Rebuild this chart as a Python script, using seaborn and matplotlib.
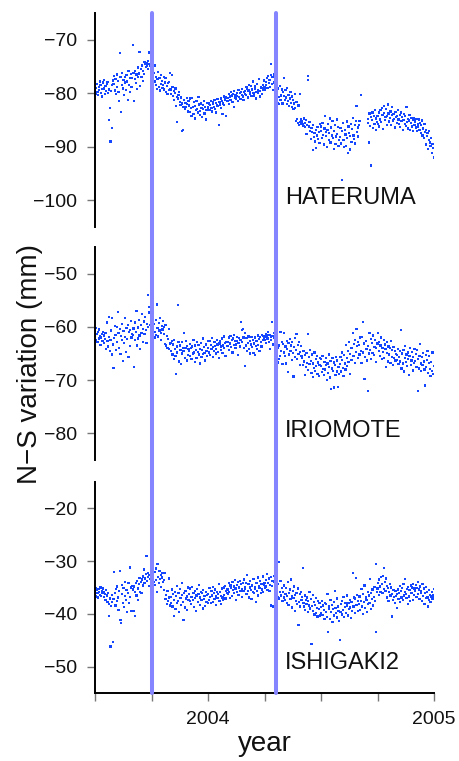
import numpy as np
import pandas as pd
import matplotlib
matplotlib.use("Agg")
import matplotlib.pyplot as plt
import seaborn as sns

# ---------------- data (daily values, one row per month Jul 2003 .. Dec 2004) ----------------
month_starts = ["2003-07", "2003-08", "2003-09", "2003-10", "2003-11", "2003-12",
                "2004-01", "2004-02", "2004-03", "2004-04", "2004-05", "2004-06",
                "2004-07", "2004-08", "2004-09", "2004-10", "2004-11", "2004-12"]
nan = float("nan")

hateruma = [
    [-79.5,-78.6,-80.1,-79.0,-78.2,-79.8,-80.3,-78.9,-79.4,-77.8,-78.5,-79.9,-80.6,-79.2,-78.0,-77.5,-79.1,-80.2,-78.7,-79.6,-78.3,-77.9,-80.0,-79.3,-85.0,-82.8,-89.0,-79.6,-86.5,-78.4,-77.6],
    [-78.2,-76.8,-79.5,-77.3,-80.1,-76.5,-78.9,-77.7,-79.8,-81.5,-72.5,-77.0,-83.5,-78.4,-76.2,-79.1,-77.5,-80.3,-76.9,-78.0,-79.4,-76.6,-77.8,-81.2,-75.9,-78.5,-77.2,-79.7,-76.4,-78.8,-77.1],
    [-71.0,-76.2,-81.5,-77.4,-75.8,-78.1,-76.5,-79.2,-75.2,-77.0,-76.3,-72.3,-78.6,-75.5,-76.9,-74.8,-77.7,-75.9,-76.4,-74.2,-74.6,-75.1,-74.3,-74.8,-74.0,-75.4,-74.5,-72.4,-74.9,-75.6],
    [-74.2,-75.0,-74.6,-80.1,-76.2,-77.8,-74.8,-78.5,-76.9,-79.2,-77.4,-76.0,-78.8,-77.1,-79.5,-76.6,-78.2,-77.7,-79.0,-78.4,-76.9,-79.3,-78.0,-77.2,-79.8,-78.6,-80.2,-78.1,-79.4,-77.9,-76.2],
    [-79.3,-80.1,-76.6,-78.8,-80.5,-79.6,-81.2,-80.0,-79.1,-82.4,-80.7,-85.4,-81.0,-80.3,-79.8,-81.6,-82.2,-80.8,-81.9,-87.0,-86.8,-82.5,-81.3,-83.0,-81.8,-82.6,-80.9,-82.0,-83.4,-81.5],
    [-82.3,-81.0,-83.5,-82.8,-84.2,-80.9,-82.6,-83.9,-81.7,-82.4,-84.7,-83.1,-81.5,-82.9,-83.6,-80.7,-82.1,-84.0,-83.3,-81.9,-82.7,-84.4,-83.0,-82.2,-81.4,-83.8,-82.5,-84.9,-83.2,-81.8,-82.8],
    [-82.6,-81.9,-83.1,-82.2,-81.5,-82.8,-83.4,-81.7,-82.0,-82.5,-81.3,-82.9,-83.6,-81.8,-82.3,-81.1,-82.4,-86.0,-81.6,-82.1,-81.0,-82.7,-81.4,-83.9,-81.9,-80.6,-82.2,-81.2,-80.8,-84.2,-81.5],
    [-80.9,-81.5,-80.2,-82.0,-80.6,-81.2,-79.8,-80.4,-81.7,-80.1,-79.6,-82.6,-80.8,-80.3,-81.0,-79.9,-80.5,-81.4,-79.4,-80.7,-80.0,-81.1,-79.7,-80.3,-79.2,-80.6,-81.3,-79.8,-80.2],
    [-79.6,-80.3,-78.9,-79.2,-80.8,-79.5,-78.4,-80.1,-79.8,-78.7,-80.5,-79.3,-77.8,-79.9,-80.4,-78.6,-79.1,-81.0,-79.7,-78.2,-80.0,-79.4,-77.3,-79.6,-80.6,-78.8,-79.0,-80.2,-78.5,-79.3,-77.6],
    [-78.8,-79.3,-77.9,-78.5,-77.2,-79.0,-76.8,-78.1,-77.5,-78.9,-76.6,-74.5,-78.3,-77.0,-79.4,-76.5,-78.0,-77.4,-79.6,-81.5,-80.2,-81.8,-79.1,-80.7,-82.0,-78.6,-81.2,-80.4,-79.3,-81.9],
    [-79.8,-80.5,-77.1,-81.2,-79.4,-80.8,-82.0,-79.0,-81.5,-80.3,-82.4,-81.0,-79.7,-81.8,-82.6,-80.6,-81.3,-83.0,-81.9,-80.2,-82.8,-85.2,-81.6,-84.8,-85.5,-82.3,-86.0,-85.4,-80.1,-84.9,-85.7],
    [-85.3,-85.8,-86.1,-84.7,-85.5,-86.3,-85.0,-87.6,-85.9,-77.5,-76.8,-86.2,-85.4,-87.0,-88.6,-86.5,-87.3,-90.6,-86.0,-88.2,-87.5,-89.0,-86.8,-90.2,-87.9,-86.3,-88.5,-87.2,-89.3,-85.8],
    [-87.0,-86.2,-88.4,-85.5,-87.8,-89.6,-86.6,-84.3,-88.0,-87.3,-90.0,-86.9,-85.8,-88.7,-87.5,-84.7,-89.2,-86.4,-87.9,-85.2,-88.3,-90.4,-87.1,-86.0,-89.5,-88.1,-84.9,-87.6,-86.3,-89.9,-88.8],
    [-88.2,-86.5,-89.4,-96.2,-87.0,-85.6,-88.8,-90.1,-86.9,-87.7,-89.8,-85.3,-88.4,-91.2,-86.2,-87.4,-90.5,-88.0,-85.8,-89.1,-86.7,-84.6,-87.9,-88.6,-86.0,-89.4,-85.2,-82.4,-87.3,-86.4,-88.1],
    [-86.0,-85.2,nan,-80.3,nan,nan,nan,nan,nan,nan,nan,nan,nan,nan,-84.8,-85.6,-89.2,-83.8,-86.1,-84.4,-93.5,-85.0,-83.6,-86.5,-84.2,-85.8,-83.1,-86.9,-84.7,-85.4],
    [-84.3,-85.7,-83.6,-86.2,-84.9,-83.2,-85.4,-82.8,-84.1,-86.7,-83.7,-82.4,-85.0,-84.5,-83.0,-85.9,-84.2,-82.1,-83.8,-85.3,-84.6,-83.4,-86.0,-84.0,-82.6,-85.1,-83.9,-84.8,-86.4,-83.5,-84.4],
    [-84.2,-85.6,-83.1,-84.9,-85.8,-84.0,-86.3,-83.6,-85.2,-84.5,-86.8,-85.0,-83.9,-85.7,-84.3,-86.1,-82.6,-85.4,-84.8,-86.6,-85.1,-84.0,-86.9,-85.5,-84.6,-86.2,-85.0,-87.1,-84.7,-85.9],
    [-85.3,-86.4,-84.8,-87.0,-85.7,-86.2,-84.9,-86.8,-85.5,-87.4,-86.0,-85.1,-87.9,-86.6,-88.3,-85.8,-87.2,-89.6,-86.9,-88.0,-87.5,-90.4,-88.7,-87.1,-89.2,-89.8,-88.4,-91.1,-89.5,-90.2,-92.0],
]

iriomote = [
    [-60.8,-61.7,-62.5,-60.2,-61.3,-62.9,-61.0,-62.2,-60.5,-61.8,-63.4,-62.0,-61.4,-62.7,-60.9,-61.6,-63.0,-62.3,-61.1,-64.1,-59.2,-62.6,-63.7,-58.1,-61.9,-64.5,-62.4,-60.7,-65.2,-58.3,-63.3],
    [-67.7,-62.1,-59.9,-61.5,-64.3,-60.0,-62.8,-57.2,-61.2,-63.9,-60.4,-65.1,-61.7,-59.5,-62.5,-66.4,-60.8,-63.0,-58.4,-61.9,-64.7,-60.2,-62.3,-59.7,-65.6,-61.0,-63.6,-60.6,-58.9,-62.0,-61.4],
    [-61.5,-60.3,-67.6,-62.4,-59.2,-61.0,-57.0,-63.5,-60.1,-62.2,-58.7,-61.6,-64.2,-59.6,-61.2,-57.6,-60.4,-62.8,-59.0,-61.4,-58.2,-60.6,-63.0,-59.4,-54.0,-60.0,-57.3,-56.2,-59.7,-61.5],
    [-60.3,-61.2,-63.6,-60.6,-59.5,-62.0,-60.9,-61.5,-58.7,-55.8,-60.2,-61.8,-59.3,-60.7,-58.4,-61.1,-62.5,-59.8,-60.5,-58.9,-61.4,-60.0,-63.2,-59.6,-63.5,-61.7,-63.9,-62.3,-64.2,-60.4,-63.1],
    [-63.0,-64.5,-62.6,-65.2,-63.3,-66.0,-62.4,-64.1,-65.5,-68.9,-63.7,-64.8,-55.9,-62.9,-66.5,-63.5,-64.4,-67.0,-62.8,-65.0,-63.9,-64.6,-61.2,-65.8,-64.0,-62.7,-66.3,-63.6,-65.3,-64.2],
    [-64.6,-63.2,-65.5,-64.0,-66.1,-63.7,-65.0,-62.4,-64.8,-66.6,-63.5,-64.3,-65.8,-62.9,-64.7,-63.4,-65.2,-66.9,-64.1,-63.0,-65.6,-64.4,-62.2,-65.1,-63.8,-64.9,-66.3,-63.3,-64.5,-65.4,-62.6],
    [-63.9,-64.8,-62.7,-65.3,-63.4,-64.2,-62.1,-65.7,-63.8,-64.5,-62.9,-63.6,-65.0,-64.1,-62.4,-63.3,-64.7,-65.9,-63.1,-62.6,-64.3,-63.7,-62.2,-64.9,-63.5,-61.8,-64.0,-63.0,-65.4,-62.8,-63.6],
    [-62.9,-63.6,-62.0,-64.3,-63.1,-61.7,-63.8,-62.5,-64.8,-62.2,-63.4,-61.5,-62.7,-64.0,-63.3,-61.9,-62.6,-65.3,-63.0,-62.1,-63.7,-62.4,-59.1,-60.6,-62.8,-60.4,-62.0,-63.9,-61.1],
    [-67.3,-63.5,-62.1,-64.6,-63.0,-61.8,-64.2,-62.6,-65.0,-63.3,-61.9,-63.8,-62.4,-64.9,-63.1,-62.0,-65.3,-63.6,-62.7,-64.1,-61.6,-63.4,-62.3,-64.5,-61.9,-62.8,-63.7,-61.5,-62.5,-61.7,-62.2],
    [-61.8,-62.5,-61.3,-63.0,-61.6,-62.2,-60.9,-62.8,-61.5,-64.2,-61.9,-62.4,-59.1,-61.7,-63.3,-62.0,-61.2,-62.6,-65.8,-61.4,-63.2,-66.7,-64.0,-66.1,-63.5,-65.4,-61.0,-64.6,-62.9,-67.0],
    [-63.2,-64.8,-61.2,-65.5,-63.7,-66.9,-62.6,-64.1,-68.5,-63.0,-65.2,-62.3,-64.6,-63.5,-66.2,-62.8,-64.9,-69.3,-63.8,-65.7,-62.1,-64.3,-61.4,-66.0,-63.4,-65.1,-62.9,-64.7,-67.2,-63.6,-65.4],
    [-65.8,-67.2,-64.6,-66.5,-69.0,-65.3,-67.6,-64.9,-66.8,-61.3,-68.1,-65.7,-67.0,-64.3,-66.4,-68.6,-65.2,-69.4,-66.9,-67.7,-64.8,-68.3,-66.1,-67.4,-65.5,-68.8,-66.7,-69.2,-67.1,-65.9],
    [-67.3,-66.1,-68.5,-65.4,-67.9,-69.1,-66.6,-68.0,-65.8,-67.2,-70.0,-66.9,-68.7,-65.2,-67.6,-69.5,-66.4,-71.6,-67.8,-65.9,-68.3,-66.7,-71.4,-67.1,-69.0,-65.6,-68.4,-66.3,-71.3,-67.5,-68.9],
    [-67.0,-65.6,-68.4,-66.2,-64.8,-67.7,-69.2,-65.3,-66.9,-68.0,-63.4,-65.9,-67.3,-64.5,-66.6,-62.8,-65.1,-68.8,-63.9,-66.2,-64.0,-61.2,-65.5,-63.2,-66.8,-62.4,-64.7,-60.4,-63.6,-65.9,-62.9],
    [-63.4,-65.2,-62.0,-64.5,-66.8,-61.9,-59.1,-64.8,-63.1,-69.8,-65.6,-62.7,-64.1,-66.3,-72.0,-63.6,-65.0,-61.1,-64.4,-62.3,-66.0,-63.0,-64.9,-61.6,-65.3,-63.8,-62.5,-66.6,-64.0,-63.2],
    [-63.1,-61.2,-64.6,-62.8,-65.4,-63.5,-62.0,-66.1,-63.9,-64.7,-62.5,-65.8,-63.3,-64.2,-67.6,-62.9,-64.9,-66.5,-63.7,-65.2,-64.0,-66.8,-62.6,-65.6,-64.4,-67.2,-63.8,-65.9,-64.5,-66.3,-65.1],
    [-65.3,-66.2,-64.1,-67.0,-65.7,-66.5,-64.6,-60.6,-67.8,-65.0,-66.9,-64.3,-68.4,-65.9,-63.6,-66.6,-65.2,-67.4,-64.8,-66.0,-69.0,-65.4,-63.9,-67.1,-66.3,-64.7,-68.2,-65.6,-66.8,-64.2],
    [-66.4,-65.1,-67.5,-64.4,-72.0,-66.0,-67.8,-65.5,-63.2,-66.9,-68.3,-65.7,-67.1,-64.9,-66.5,-68.0,-71.0,-65.3,-67.6,-66.2,-64.6,-68.6,-66.8,-65.4,-67.9,-69.2,-66.6,-68.3,-64.8,-68.9,-67.4],
]

ishigaki2 = [
    [-35.6,-36.2,-35.1,-36.7,-35.4,-36.0,-36.9,-35.3,-35.8,-36.4,-35.0,-36.6,-35.7,-36.1,-35.2,-36.8,-35.9,-36.3,-37.4,-35.5,-36.5,-37.8,-36.0,-38.2,-40.4,-37.1,-46.2,-38.5,-36.4,-37.7,-45.3],
    [-37.2,-32.1,-36.0,-38.4,-35.3,-37.6,-34.8,-36.9,-39.2,-35.7,-31.8,-41.1,-41.7,-36.3,-34.5,-37.9,-35.1,-38.7,-36.6,-33.9,-37.3,-35.5,-39.6,-36.1,-34.2,-38.0,-31.2,-36.8,-35.0,-39.4,-34.7],
    [-35.4,-39.5,-34.8,-40.4,-35.9,-34.1,-36.5,-33.7,-35.2,-37.3,-34.4,-33.2,-35.8,-34.0,-36.1,-33.5,-34.6,-32.9,-31.6,-34.2,-33.3,-32.5,-29.1,-33.8,-32.2,-33.0,-34.7,-32.6,-33.4,-38.9],
    [-33.2,-34.8,-32.5,-35.3,-33.9,-32.1,-34.5,-31.4,-33.6,-35.9,-30.6,-33.0,-34.2,-31.8,-33.4,-32.7,-34.9,-33.1,-32.3,-34.0,-33.6,-35.5,-32.2,-37.2,-36.4,-38.1,-35.7,-37.6,-36.9,-33.3,-38.4],
    [-36.8,-37.9,-35.4,-38.6,-36.2,-40.4,-37.3,-35.8,-39.1,-36.6,-38.0,-34.7,-37.5,-36.1,-39.7,-35.3,-37.0,-38.3,-36.4,-34.2,-37.8,-41.2,-36.0,-38.8,-35.6,-37.1,-39.3,-36.7,-35.0,-37.4],
    [-36.3,-37.6,-35.2,-38.1,-36.8,-34.9,-37.3,-36.0,-38.7,-35.6,-37.0,-39.4,-36.5,-35.3,-37.8,-36.2,-34.5,-38.3,-36.9,-35.8,-37.4,-36.1,-39.0,-35.5,-37.2,-36.6,-38.5,-35.9,-37.7,-36.4,-38.0],
    [-36.2,-37.4,-35.1,-36.8,-38.0,-35.6,-36.5,-37.7,-34.9,-36.0,-37.2,-35.4,-38.3,-36.7,-35.8,-37.0,-36.3,-34.4,-37.6,-35.9,-36.6,-38.1,-35.2,-36.9,-37.3,-35.0,-36.4,-34.7,-37.1,-35.7,-36.1],
    [-35.4,-36.3,-34.2,-35.8,-37.0,-34.6,-35.1,-36.6,-33.9,-35.5,-34.8,-36.1,-33.6,-35.2,-37.4,-34.5,-35.9,-34.0,-36.4,-35.0,-33.8,-35.7,-34.3,-36.8,-35.3,-34.1,-35.6,-33.5,-34.9],
    [-35.2,-34.1,-36.3,-32.6,-35.7,-34.4,-36.9,-35.0,-33.8,-35.5,-37.2,-34.6,-35.9,-33.4,-36.1,-34.9,-35.3,-37.8,-34.2,-35.6,-33.1,-36.5,-34.7,-35.1,-33.7,-36.0,-34.3,-35.4,-32.9,-35.8,-34.5],
    [-34.2,-35.0,-33.6,-34.8,-32.4,-35.5,-34.1,-33.3,-35.7,-34.5,-33.0,-38.4,-34.7,-33.8,-38.6,-34.0,-32.8,-35.2,-33.5,-34.9,-35.6,-36.8,-34.4,-37.1,-30.2,-35.9,-33.7,-36.5,-35.1,-37.6],
    [-35.8,-36.9,-34.6,-37.4,-36.2,-35.1,-37.9,-36.6,-34.0,-38.3,-36.0,-35.4,-37.2,-33.5,-36.7,-38.8,-35.6,-37.0,-34.8,-36.4,-39.5,-37.5,-36.1,-38.1,-35.2,-42.1,-37.8,-36.3,-38.6,-35.9,-37.3],
    [-36.8,-31.3,-37.9,-38.6,-36.5,-39.2,-37.4,-38.1,-36.9,-39.7,-37.6,-38.4,-35.9,-39.0,-37.2,-45.7,-38.5,-36.4,-39.4,-37.8,-40.1,-38.3,-37.0,-39.8,-38.9,-40.5,-37.5,-39.1,-38.0,-40.3],
    [-38.7,-39.8,-37.6,-40.2,-38.4,-39.3,-41.0,-37.9,-39.6,-38.1,-40.6,-36.2,-43.4,-39.0,-38.5,-40.9,-37.3,-39.7,-38.3,-41.5,-39.1,-37.8,-40.3,-35.6,-38.9,-39.9,-37.1,-40.7,-38.6,-39.4,-41.3],
    [-44.9,-39.6,-38.2,-40.1,-37.5,-39.3,-36.8,-40.6,-38.7,-37.9,-39.9,-38.4,-36.5,-40.3,-38.0,-39.1,-37.3,-38.8,-40.8,-37.7,-39.5,-32.3,-38.6,-36.9,-39.8,-37.1,-33.2,-38.3,-36.4,-39.4,-37.6],
    [-38.1,-36.7,-39.2,-37.5,-35.3,-38.6,-36.2,-40.0,-37.8,-34.6,-38.9,-36.9,-37.4,-39.6,-35.8,-38.2,-36.5,-37.9,-33.4,-39.1,-36.0,-37.2,-35.4,-38.4,-36.8,-34.9,-37.6,-43.4,-30.6,-35.9],
    [-35.2,-34.1,-36.4,-33.5,-34.8,-35.9,-33.0,-34.4,-36.1,-32.8,-35.3,-31.3,-34.0,-35.6,-33.3,-34.7,-36.9,-35.1,-37.6,-35.8,-34.3,-36.5,-35.0,-40.5,-36.2,-37.3,-35.5,-36.8,-38.0,-35.7,-36.6],
    [-36.3,-38.9,-35.4,-37.2,-36.0,-34.7,-37.8,-35.6,-36.9,-35.1,-37.4,-34.3,-36.5,-35.8,-33.4,-36.2,-37.0,-35.3,-38.1,-34.9,-36.7,-35.5,-37.6,-34.6,-36.1,-35.0,-37.3,-34.4,-36.4,-35.2],
    [-35.7,-34.5,-36.8,-35.1,-34.0,-36.3,-35.4,-37.2,-34.8,-36.0,-35.6,-37.5,-34.3,-36.6,-35.2,-38.2,-36.1,-34.9,-37.0,-35.8,-36.9,-38.6,-35.5,-37.3,-36.4,-37.8,-36.7,-35.9,-37.1,-36.5,-35.3],
]

station_names = ["HATERUMA", "IRIOMOTE", "ISHIGAKI2"]
station_series = [hateruma, iriomote, ishigaki2]
y_limits = [(-105, -65), (-85, -45), (-55, -15)]
y_ticks = [[-100, -90, -80, -70], [-80, -70, -60, -50], [-50, -40, -30, -20]]
label_pos_y = [-99.5, -79.5, -49.4]
label_pos_x = 2004.34
event_years = [2003.752, 2004.302]
x_ticks = [2003.5, 2003.75, 2004.0, 2004.25, 2004.5, 2004.75, 2005.0]
x_tick_labels = ["", "", "2004", "", "", "", "2005"]


def to_frame(rows):
    recs = []
    for m, row in zip(month_starts, rows):
        start = pd.Timestamp(m + "-01")
        for d, v in enumerate(row):
            t = start + pd.Timedelta(days=d)
            ndays = 366 if t.is_leap_year else 365
            recs.append((t.year + (t.dayofyear - 0.5) / ndays, v))
    return pd.DataFrame(recs, columns=["year", "ns"]).dropna()


# ---------------- figure ----------------
sns.set_theme(style="white")
plt.rcParams["font.family"] = ["Liberation Sans", "DejaVu Sans"]

fig = plt.figure(figsize=(4.59, 7.61), dpi=100)
W, H = 459.0, 761.0
left, right = 95, 434
panels_px = [(13, 227), (247, 460), (482, 693)]
point_color = "#1446ff"
line_color = "#8585ff"
tick_color = "#777777"

axes = []
for i, (top, bot) in enumerate(panels_px):
    ax = fig.add_axes([left / W, 1 - bot / H, (right - left) / W, (bot - top) / H])
    axes.append(ax)
    df = to_frame(station_series[i])
    sns.scatterplot(data=df, x="year", y="ns", ax=ax, marker="s", s=2.6,
                    color=point_color, linewidth=0, edgecolor="none", zorder=2)
    ax.set_xlim(2003.5, 2005.0)
    ax.set_ylim(*y_limits[i])
    ax.set_yticks(y_ticks[i])
    ax.set_yticklabels([str(v).replace("-", "\u2212") for v in y_ticks[i]])
    ax.set_xlabel("")
    ax.set_ylabel("")
    for s in ["top", "right"]:
        ax.spines[s].set_visible(False)
    ax.spines["left"].set_color("black")
    ax.spines["left"].set_linewidth(1.4)
    ax.tick_params(axis="y", left=True, direction="out", length=6, width=1,
                   color=tick_color, labelsize=14, pad=7, labelcolor="#111111")
    ax.text(label_pos_x, label_pos_y[i], station_names[i], fontsize=17,
            va="center", ha="left", color="#111111")
    ext = -(panels_px[i + 1][0] - bot + 1) / (bot - top) if i < 2 else 0
    for ev in event_years:
        ax.axvline(ev, ymin=ext, ymax=1, color=line_color, lw=2.9,
                   clip_on=False, zorder=3)
    if i < 2:
        ax.spines["bottom"].set_visible(False)
        ax.set_xticks([])
    else:
        ax.spines["bottom"].set_color("black")
        ax.spines["bottom"].set_linewidth(1.4)
        ax.set_xticks(x_ticks)
        ax.set_xticklabels(x_tick_labels)
        ax.tick_params(axis="x", bottom=True, direction="out", length=6, width=1,
                       color=tick_color, labelsize=14, pad=7, labelcolor="#111111")

fig.text(30 / W, 1 - 364 / H, "N\u2212S variation (mm)", rotation=90,
         fontsize=20, ha="center", va="center", color="#111111")
fig.text(265 / W, 1 - 744 / H, "year", fontsize=20, ha="center", va="center",
         color="#111111")

fig.savefig("out.png", dpi=100, facecolor="white")
